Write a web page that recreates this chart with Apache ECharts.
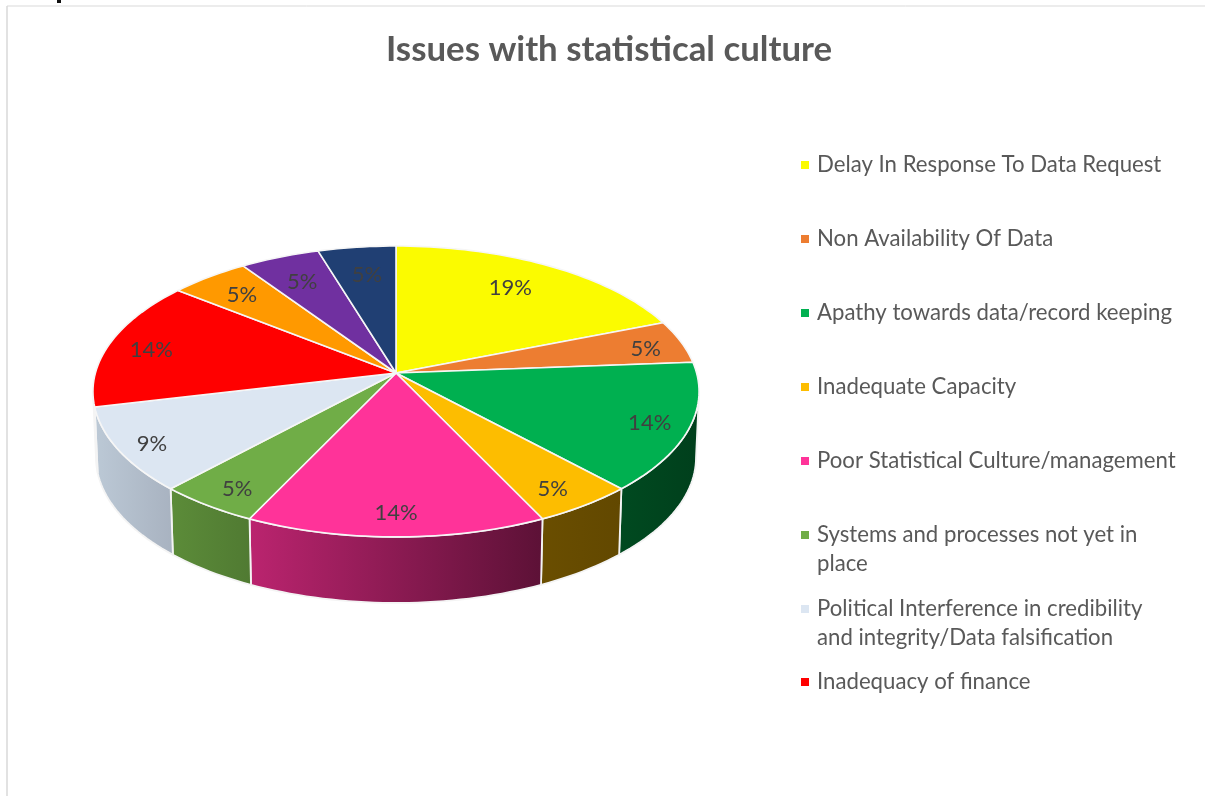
<!DOCTYPE html>
<html>
<head>
<meta charset="utf-8">
<title>Issues with statistical culture</title>
<style>html,body{margin:0;padding:0;background:#fff}#chart{width:1205px;height:796px}</style>
<script src="https://cdn.jsdelivr.net/npm/echarts@6/dist/echarts.min.js"></script>
</head>
<body>
<div id="chart"></div>
<script>
// Share of responses per issue, in percent. The last three slices have no legend row.
const categories = [
  'Delay In Response To Data Request',
  'Non Availability Of Data',
  'Apathy towards data/record keeping',
  'Inadequate Capacity',
  'Poor Statistical Culture/management',
  'Systems and processes not yet in place',
  'Political Interference in credibility and integrity/Data falsification',
  'Inadequacy of finance',
  'Unlisted issue 1',
  'Unlisted issue 2',
  'Unlisted issue 3'
];
const sharePercent = [19.0, 4.8, 14.3, 4.8, 14.2, 4.8, 9.4, 14.4, 4.8, 4.8, 4.7];

// Slice styling, kept apart from the data.
const topColors = ['#FBFB00', '#ED7D31', '#00B050', '#FDBD00', '#FF3399', '#70AD47', '#DCE6F2', '#FF0000', '#FF9900', '#7030A0', '#203F73'];
const wallColors = [
  null, null,
  ['#004A20', '#003F1C'],
  ['#6A4E00', '#624800'],
  ['#BB246F', '#5C1136'],
  ['#5C8C39', '#507A32'],
  ['#BCC9D6', '#A8B2C0'],
  ['#8F0000', '#8F0000'],
  null, null, null
];
// Where each percentage sits: radial reach on the disc, then a small page offset.
const labelReach = [0.77, 0.87, 0.87, 0.86, 0.865, 0.86, 0.89, 0.85, 0.81, 0.78, 0.77];
const labelOffsetX = [-6, 1, 0, -3, 0, 1, 1, -1, 0, -1, 2];
const labelOffsetY = [-1, 3, 3, 4, 1, 4, 3, 3, 1, 1, 1];

// Legend layout: only the first eight issues are listed.
const legendCount = 8;
const legendRowCentres = [165, 239, 313, 387, 461, 535, 609, 682];
const legendWrapped = {
  'Systems and processes not yet in place': '\nSystems and processes not yet in\nplace',
  'Political Interference in credibility and integrity/Data falsification': '\nPolitical Interference in credibility\nand integrity/Data falsification'
};

// Perspective projection of the unit disc onto the page.
const APEX_X = 396, APEX_Y = 373, SCALE_X = 300.6, SCALE_Y = 143.1, TILT = 0.127;
const DEPTH = 66, FLOOR_SHRINK = 0.99;
const FONT = 'Lato, "Open Sans", sans-serif';
const LABEL_COLOR = '#404040', LEGEND_COLOR = '#595959';
const LINE_H = 29;

const total = sharePercent.reduce((a, b) => a + b, 0);
const toDeg = share => share / total * 360;

function project(deg, r) {
  const t = deg * Math.PI / 180;
  const u = r * Math.sin(t), v = r * Math.cos(t), w = 1 + TILT * v;
  return [APEX_X + SCALE_X * u / w, APEX_Y - SCALE_Y * v / w];
}
function rim(from, to) {
  const pts = [], n = Math.max(2, Math.ceil((to - from) / 1.5));
  for (let i = 0; i <= n; i++) pts.push(project(from + (to - from) * i / n, 1));
  return pts;
}
// The side wall is visible only between the two horizontal extremes of the rim.
const frontFrom = Math.acos(-TILT) * 180 / Math.PI;
const frontTo = 360 - frontFrom;

function renderSlice(params, api) {
  const idx = params.seriesIndex;
  const value = api.value(0), before = api.value(1);
  const a0 = toDeg(before), a1 = toDeg(before + value);
  const mid = (a0 + a1) / 2;
  const children = [];

  const w0 = Math.max(a0, frontFrom), w1 = Math.min(a1, frontTo);
  if (w1 > w0 && wallColors[idx]) {
    const upper = rim(w0, w1);
    const lower = upper.map(p => [APEX_X + (p[0] - APEX_X) * FLOOR_SHRINK, p[1] + DEPTH]).reverse();
    children.push({
      type: 'polygon', z2: 1, silent: true,
      shape: { points: upper.concat(lower) },
      style: {
        fill: new echarts.graphic.LinearGradient(0, 0, 1, 0, [
          { offset: 0, color: wallColors[idx][0] },
          { offset: 1, color: wallColors[idx][1] }
        ]),
        stroke: '#F4F4F4', lineWidth: 1.8
      }
    });
  }
  children.push({
    type: 'polygon', z2: 5, silent: true,
    shape: { points: [[APEX_X, APEX_Y]].concat(rim(a0, a1)) },
    style: { fill: topColors[idx], stroke: '#F6F6F6', lineWidth: 1.6, lineJoin: 'round' }
  });
  const at = project(mid, labelReach[idx]);
  children.push({
    type: 'text', z2: 9, silent: true,
    style: {
      x: at[0] + labelOffsetX[idx], y: at[1] + labelOffsetY[idx],
      text: Math.round(value / total * 100) + '%',
      fill: LABEL_COLOR, font: '22px ' + FONT, align: 'center', verticalAlign: 'middle'
    }
  });
  return { type: 'group', children };
}

let running = 0;
const series = categories.map((name, i) => {
  const item = {
    type: 'custom', name, coordinateSystem: 'none', silent: true, animation: false,
    renderItem: renderSlice,
    itemStyle: { color: topColors[i] },
    data: [[sharePercent[i], running]]
  };
  running += sharePercent[i];
  return item;
});

// One legend per row because the row spacing follows the wrapped text.
// A wrapped row starts with a blank line so its marker lines up with the first line of text.
const legends = categories.slice(0, legendCount).map((name, i) => {
  const wrapped = !!legendWrapped[name];
  return {
    data: [name], orient: 'vertical', left: 801,
    top: legendRowCentres[i] - LINE_H * (wrapped ? 1.5 : 0.5),
    padding: 0, itemWidth: 8, itemHeight: 8, itemGap: 0, icon: 'rect', selectedMode: false,
    align: 'left',
    formatter: n => legendWrapped[n] || n,
    textStyle: {
      color: LEGEND_COLOR, fontFamily: FONT, fontSize: 22.2, lineHeight: LINE_H,
      padding: [0, 0, 0, 3]
    }
  };
});

const chart = echarts.init(document.getElementById('chart'), null, { renderer: 'canvas' });
chart.setOption({
  animation: false,
  backgroundColor: '#fff',
  title: {
    text: 'Issues with statistical culture', left: 386, top: 32, padding: 0,
    textStyle: { color: '#595959', fontFamily: FONT, fontSize: 34.8, fontWeight: 'bold' }
  },
  legend: legends,
  series,
  graphic: [
    { type: 'line', silent: true, shape: { x1: 7, y1: 6, x2: 1205, y2: 6 }, style: { stroke: '#D9D9D9', lineWidth: 1 } },
    { type: 'line', silent: true, shape: { x1: 7, y1: 6, x2: 7, y2: 796 }, style: { stroke: '#D9D9D9', lineWidth: 1.5 } },
    { type: 'rect', silent: true, shape: { x: 57, y: 0, width: 4, height: 3 }, style: { fill: '#111' } }
  ]
});
</script>
</body>
</html>
